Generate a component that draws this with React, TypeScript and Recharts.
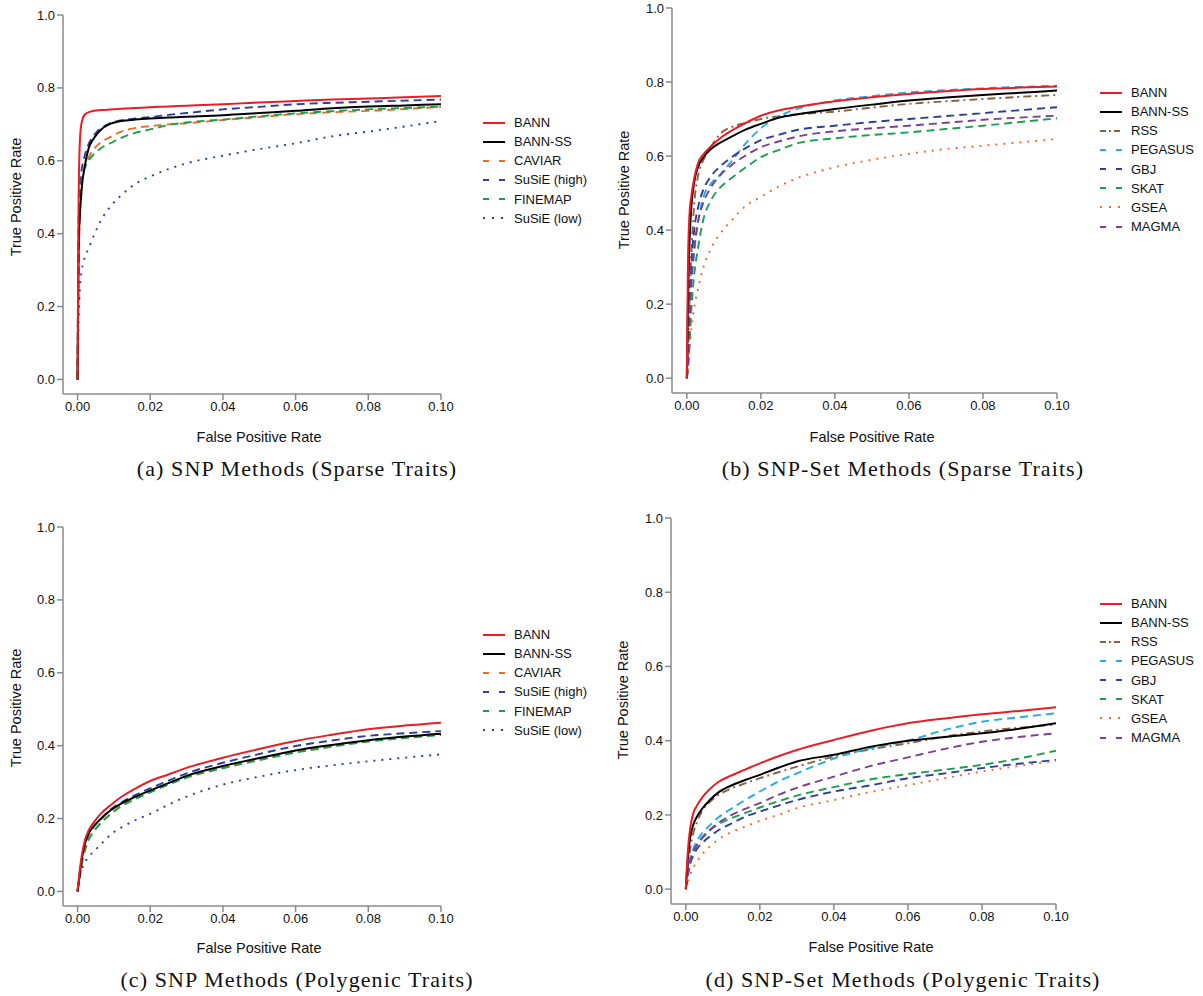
import { LineChart, Line, XAxis, YAxis } from 'recharts';

// shared false-positive-rate grid for every curve
const FPR = [0, 0.0003, 0.0007, 0.0012, 0.002, 0.003, 0.0045, 0.0065, 0.009, 0.012, 0.016, 0.02, 0.025, 0.03, 0.04, 0.05, 0.06, 0.07, 0.08, 0.09, 0.1];

const X_TICKS = [0, 0.02, 0.04, 0.06, 0.08, 0.1];
const Y_TICKS = [0, 0.2, 0.4, 0.6, 0.8, 1.0];

// (a) SNP methods, sparse traits
const aBann = [0, 0.5, 0.665, 0.708, 0.727, 0.733, 0.737, 0.739, 0.741, 0.743, 0.745, 0.747, 0.749, 0.751, 0.755, 0.76, 0.764, 0.768, 0.771, 0.774, 0.778];
const aBannSS = [0, 0.36, 0.46, 0.53, 0.585, 0.632, 0.662, 0.686, 0.701, 0.709, 0.713, 0.716, 0.719, 0.721, 0.725, 0.731, 0.737, 0.744, 0.749, 0.752, 0.755];
const aCaviar = [0, 0.3, 0.47, 0.54, 0.585, 0.608, 0.632, 0.651, 0.665, 0.68, 0.69, 0.695, 0.7, 0.703, 0.712, 0.72, 0.728, 0.733, 0.737, 0.742, 0.748];
const aSusieHigh = [0, 0.45, 0.54, 0.58, 0.615, 0.645, 0.67, 0.69, 0.703, 0.711, 0.716, 0.72, 0.726, 0.731, 0.741, 0.748, 0.755, 0.759, 0.762, 0.765, 0.768];
const aFinemap = [0, 0.32, 0.5, 0.55, 0.58, 0.6, 0.618, 0.635, 0.648, 0.663, 0.677, 0.686, 0.698, 0.705, 0.713, 0.722, 0.73, 0.736, 0.741, 0.745, 0.748];
const aSusieLow = [0, 0.16, 0.255, 0.3, 0.335, 0.358, 0.395, 0.437, 0.474, 0.505, 0.537, 0.557, 0.577, 0.593, 0.614, 0.632, 0.648, 0.667, 0.68, 0.694, 0.709];

// (b) SNP-set methods, sparse traits
const bBann = [0, 0.3, 0.44, 0.49, 0.54, 0.58, 0.605, 0.626, 0.648, 0.668, 0.69, 0.709, 0.724, 0.733, 0.748, 0.759, 0.768, 0.775, 0.781, 0.785, 0.788];
const bBannSS = [0, 0.2, 0.36, 0.46, 0.53, 0.57, 0.597, 0.619, 0.636, 0.652, 0.672, 0.687, 0.704, 0.713, 0.727, 0.739, 0.75, 0.758, 0.765, 0.771, 0.777];
const bRss = [0, 0.06, 0.2, 0.33, 0.47, 0.545, 0.59, 0.625, 0.66, 0.678, 0.69, 0.7, 0.708, 0.713, 0.72, 0.731, 0.741, 0.748, 0.754, 0.76, 0.765];
const bPegasus = [0, 0.05, 0.17, 0.26, 0.34, 0.42, 0.49, 0.525, 0.55, 0.585, 0.635, 0.675, 0.708, 0.728, 0.75, 0.762, 0.772, 0.778, 0.783, 0.787, 0.79];
const bGbj = [0, 0.05, 0.18, 0.3, 0.4, 0.46, 0.51, 0.545, 0.572, 0.596, 0.622, 0.643, 0.658, 0.671, 0.682, 0.692, 0.7, 0.708, 0.716, 0.724, 0.732];
const bSkat = [0, 0.02, 0.08, 0.18, 0.28, 0.35, 0.43, 0.48, 0.515, 0.54, 0.57, 0.597, 0.617, 0.635, 0.648, 0.657, 0.664, 0.673, 0.682, 0.692, 0.702];
const bGsea = [0, 0.02, 0.07, 0.13, 0.19, 0.24, 0.3, 0.35, 0.39, 0.425, 0.466, 0.49, 0.519, 0.541, 0.57, 0.59, 0.606, 0.619, 0.628, 0.637, 0.646];
const bMagma = [0, 0.04, 0.15, 0.25, 0.35, 0.42, 0.475, 0.515, 0.548, 0.575, 0.602, 0.624, 0.64, 0.653, 0.667, 0.675, 0.682, 0.69, 0.698, 0.704, 0.709];

// (c) SNP methods, polygenic traits
const cBann = [0, 0.03, 0.065, 0.1, 0.14, 0.166, 0.19, 0.214, 0.236, 0.259, 0.283, 0.303, 0.321, 0.339, 0.367, 0.391, 0.413, 0.43, 0.445, 0.455, 0.463];
const cBannSS = [0, 0.025, 0.055, 0.09, 0.13, 0.158, 0.18, 0.2, 0.222, 0.241, 0.26, 0.277, 0.297, 0.317, 0.344, 0.366, 0.387, 0.402, 0.415, 0.425, 0.433];
const cCaviar = [0, 0.02, 0.045, 0.075, 0.11, 0.14, 0.165, 0.19, 0.212, 0.235, 0.256, 0.275, 0.296, 0.314, 0.339, 0.362, 0.383, 0.399, 0.413, 0.423, 0.431];
const cSusieHigh = [0, 0.025, 0.055, 0.09, 0.128, 0.155, 0.178, 0.2, 0.224, 0.244, 0.265, 0.283, 0.304, 0.324, 0.353, 0.377, 0.399, 0.414, 0.427, 0.434, 0.44];
const cFinemap = [0, 0.02, 0.048, 0.08, 0.115, 0.142, 0.165, 0.188, 0.211, 0.233, 0.254, 0.272, 0.293, 0.312, 0.338, 0.36, 0.381, 0.397, 0.411, 0.421, 0.429];
const cSusieLow = [0, 0.02, 0.045, 0.062, 0.08, 0.094, 0.11, 0.13, 0.155, 0.175, 0.196, 0.213, 0.238, 0.26, 0.293, 0.315, 0.333, 0.346, 0.357, 0.367, 0.376];

// (d) SNP-set methods, polygenic traits
const dBann = [0, 0.06, 0.12, 0.165, 0.204, 0.225, 0.248, 0.27, 0.29, 0.305, 0.322, 0.339, 0.358, 0.375, 0.402, 0.427, 0.447, 0.46, 0.471, 0.48, 0.49];
const dBannSS = [0, 0.05, 0.1, 0.14, 0.173, 0.195, 0.218, 0.24, 0.262, 0.278, 0.294, 0.308, 0.327, 0.344, 0.362, 0.384, 0.4, 0.41, 0.42, 0.432, 0.447];
const dRss = [0, 0.03, 0.07, 0.11, 0.15, 0.18, 0.212, 0.235, 0.255, 0.27, 0.285, 0.299, 0.315, 0.33, 0.357, 0.377, 0.393, 0.411, 0.425, 0.435, 0.444];
const dPegasus = [0, 0.03, 0.06, 0.085, 0.108, 0.13, 0.152, 0.172, 0.195, 0.215, 0.24, 0.263, 0.29, 0.312, 0.352, 0.38, 0.4, 0.429, 0.451, 0.463, 0.474];
const dGbj = [0, 0.022, 0.045, 0.068, 0.09, 0.108, 0.125, 0.142, 0.16, 0.175, 0.195, 0.209, 0.225, 0.24, 0.263, 0.28, 0.299, 0.312, 0.326, 0.338, 0.348];
const dSkat = [0, 0.025, 0.05, 0.075, 0.098, 0.118, 0.138, 0.158, 0.176, 0.19, 0.205, 0.22, 0.237, 0.252, 0.275, 0.296, 0.31, 0.322, 0.335, 0.352, 0.373];
const dGsea = [0, 0.01, 0.025, 0.04, 0.058, 0.075, 0.095, 0.115, 0.135, 0.152, 0.168, 0.184, 0.2, 0.218, 0.24, 0.262, 0.28, 0.299, 0.317, 0.332, 0.346];
const dMagma = [0, 0.025, 0.05, 0.075, 0.1, 0.12, 0.14, 0.16, 0.18, 0.198, 0.216, 0.232, 0.254, 0.273, 0.303, 0.332, 0.355, 0.378, 0.397, 0.41, 0.42];

const C = {
  red: '#ea1d25',
  black: '#000000',
  orange: '#f26a2a',
  navy: '#2b3f98',
  green: '#1aa04c',
  sky: '#22ade4',
  brown: '#8c6142',
  purple: '#7c3f97'
};

const DASH = { solid: undefined, dashed: '8 5', dotted: '2 6', dotdash: '8 4 2 4' };
const LEGEND_DASH = { solid: undefined, dashed: '6 10', dotted: '2 7', dotdash: '6 3 2 3' };

type Series = { key: string; name: string; color: string; lty: keyof typeof DASH; values: number[] };

const snpSparse: Series[] = [
  { key: 'bann', name: 'BANN', color: C.red, lty: 'solid', values: aBann },
  { key: 'bannss', name: 'BANN-SS', color: C.black, lty: 'solid', values: aBannSS },
  { key: 'caviar', name: 'CAVIAR', color: C.orange, lty: 'dashed', values: aCaviar },
  { key: 'susiehigh', name: 'SuSiE (high)', color: C.navy, lty: 'dashed', values: aSusieHigh },
  { key: 'finemap', name: 'FINEMAP', color: C.green, lty: 'dashed', values: aFinemap },
  { key: 'susielow', name: 'SuSiE (low)', color: C.navy, lty: 'dotted', values: aSusieLow }
];

const setSparse: Series[] = [
  { key: 'bann', name: 'BANN', color: C.red, lty: 'solid', values: bBann },
  { key: 'bannss', name: 'BANN-SS', color: C.black, lty: 'solid', values: bBannSS },
  { key: 'rss', name: 'RSS', color: C.brown, lty: 'dotdash', values: bRss },
  { key: 'pegasus', name: 'PEGASUS', color: C.sky, lty: 'dashed', values: bPegasus },
  { key: 'gbj', name: 'GBJ', color: C.navy, lty: 'dashed', values: bGbj },
  { key: 'skat', name: 'SKAT', color: C.green, lty: 'dashed', values: bSkat },
  { key: 'gsea', name: 'GSEA', color: C.orange, lty: 'dotted', values: bGsea },
  { key: 'magma', name: 'MAGMA', color: C.purple, lty: 'dashed', values: bMagma }
];

const snpPoly: Series[] = [
  { key: 'bann', name: 'BANN', color: C.red, lty: 'solid', values: cBann },
  { key: 'bannss', name: 'BANN-SS', color: C.black, lty: 'solid', values: cBannSS },
  { key: 'caviar', name: 'CAVIAR', color: C.orange, lty: 'dashed', values: cCaviar },
  { key: 'susiehigh', name: 'SuSiE (high)', color: C.navy, lty: 'dashed', values: cSusieHigh },
  { key: 'finemap', name: 'FINEMAP', color: C.green, lty: 'dashed', values: cFinemap },
  { key: 'susielow', name: 'SuSiE (low)', color: C.navy, lty: 'dotted', values: cSusieLow }
];

const setPoly: Series[] = [
  { key: 'bann', name: 'BANN', color: C.red, lty: 'solid', values: dBann },
  { key: 'bannss', name: 'BANN-SS', color: C.black, lty: 'solid', values: dBannSS },
  { key: 'rss', name: 'RSS', color: C.brown, lty: 'dotdash', values: dRss },
  { key: 'pegasus', name: 'PEGASUS', color: C.sky, lty: 'dashed', values: dPegasus },
  { key: 'gbj', name: 'GBJ', color: C.navy, lty: 'dashed', values: dGbj },
  { key: 'skat', name: 'SKAT', color: C.green, lty: 'dashed', values: dSkat },
  { key: 'gsea', name: 'GSEA', color: C.orange, lty: 'dotted', values: dGsea },
  { key: 'magma', name: 'MAGMA', color: C.purple, lty: 'dashed', values: dMagma }
];

const SANS = '"Liberation Sans", Arial, Helvetica, sans-serif';
const SERIF = '"Liberation Serif", "Times New Roman", serif';
const AXIS = '#8a8a8a';
const RIGHT = 24;

type Layout = {
  left: number; top: number; width: number; height: number; marginTop: number;
  xLabel: [number, number]; yLabel: [number, number]; legend: [number, number]; caption: [number, number];
};

function Panel({ series, layout, caption }: { series: Series[]; layout: Layout; caption: string }) {
  const rows = FPR.map((f, i) => {
    const r: Record<string, number> = { fpr: f };
    series.forEach(s => { r[s.key] = s.values[i]; });
    return r;
  });
  // draw BANN-type curves last so they sit on top
  const order = [...series.slice(2), series[1], series[0]];

  return (
    <>
      <div style={{ position: 'absolute', left: layout.left, top: layout.top }}>
        <LineChart width={layout.width + RIGHT} height={layout.height} data={rows}
          margin={{ top: layout.marginTop, right: RIGHT, bottom: 0, left: 0 }}>
          <XAxis dataKey="fpr" type="number" domain={[-0.004, 0.1]} ticks={X_TICKS} allowDataOverflow
            tickFormatter={(v: number) => v.toFixed(2)} height={25} interval={0}
            stroke={AXIS} strokeWidth={1.5} tickSize={6}
            tick={{ fill: '#111', fontSize: 13, fontFamily: SANS }} />
          <YAxis type="number" domain={[-0.04, 1]} ticks={Y_TICKS} allowDataOverflow
            tickFormatter={(v: number) => v.toFixed(1)} width={63} interval={0}
            stroke={AXIS} strokeWidth={1.5} tickSize={6}
            tick={{ fill: '#111', fontSize: 13, fontFamily: SANS }} />
          {order.map(s => (
            <Line key={s.key} dataKey={s.key} name={s.name} type="monotone" stroke={s.color}
              strokeWidth={s.key === 'bann' || s.key === 'bannss' ? 2 : 1.9}
              strokeDasharray={DASH[s.lty]} dot={false} activeDot={false} isAnimationActive={false} />
          ))}
        </LineChart>
      </div>

      <div style={{ ...title, left: layout.xLabel[0], top: layout.xLabel[1], transform: 'translate(-50%, -50%)' }}>
        False Positive Rate
      </div>
      <div style={{ ...title, left: layout.yLabel[0], top: layout.yLabel[1], transform: 'translate(-50%, -50%) rotate(-90deg)' }}>
        True Positive Rate
      </div>

      <div style={{ position: 'absolute', left: layout.legend[0], top: layout.legend[1] }}>
        {series.map(s => (
          <div key={s.key} style={legendRow}>
            <svg width={32} height={12} style={{ display: 'block' }}>
              <line x1={1} y1={6} x2={23} y2={6} stroke={s.color} strokeWidth={2}
                strokeDasharray={LEGEND_DASH[s.lty]} />
            </svg>
            <span>{s.name}</span>
          </div>
        ))}
      </div>

      <div style={{ ...captionStyle, left: layout.caption[0], top: layout.caption[1] }}>{caption}</div>
    </>
  );
}

const layoutA: Layout = { left: 0, top: 0, width: 441, height: 419, marginTop: 15, xLabel: [259, 437], yLabel: [16, 197], legend: [482, 113], caption: [297, 469] };
const layoutB: Layout = { left: 609, top: 0, width: 448, height: 418, marginTop: 8, xLabel: [872, 437], yLabel: [624, 190], legend: [1099, 83], caption: [903, 469] };
const layoutC: Layout = { left: 0, top: 512, width: 441, height: 419, marginTop: 15, xLabel: [259, 948], yLabel: [16, 708], legend: [482, 625], caption: [297, 980] };
const layoutD: Layout = { left: 608, top: 510, width: 448, height: 419, marginTop: 8, xLabel: [871, 947], yLabel: [623, 700], legend: [1099, 594], caption: [903, 980] };

export default function App() {
  return (
    <div style={page}>
      <Panel series={snpSparse} layout={layoutA} caption="(a) SNP Methods (Sparse Traits)" />
      <Panel series={setSparse} layout={layoutB} caption="(b) SNP-Set Methods (Sparse Traits)" />
      <Panel series={snpPoly} layout={layoutC} caption="(c) SNP Methods (Polygenic Traits)" />
      <Panel series={setPoly} layout={layoutD} caption="(d) SNP-Set Methods (Polygenic Traits)" />
    </div>
  );
}

const page = {
  position: 'absolute' as const,
  left: 0,
  top: 0,
  width: 1203,
  height: 996,
  background: '#fff',
  overflow: 'hidden' as const
};

const title = {
  position: 'absolute' as const,
  fontFamily: SANS,
  fontSize: 14.5,
  color: '#111',
  whiteSpace: 'nowrap' as const,
  lineHeight: 1
};

const legendRow = {
  display: 'flex',
  alignItems: 'center',
  height: 19.15,
  fontFamily: SANS,
  fontSize: 13,
  color: '#111',
  whiteSpace: 'nowrap' as const
};

const captionStyle = {
  position: 'absolute' as const,
  transform: 'translate(-50%, -50%)',
  fontFamily: SERIF,
  fontSize: 22,
  letterSpacing: 1.1,
  color: '#111',
  whiteSpace: 'nowrap' as const,
  lineHeight: 1
};
